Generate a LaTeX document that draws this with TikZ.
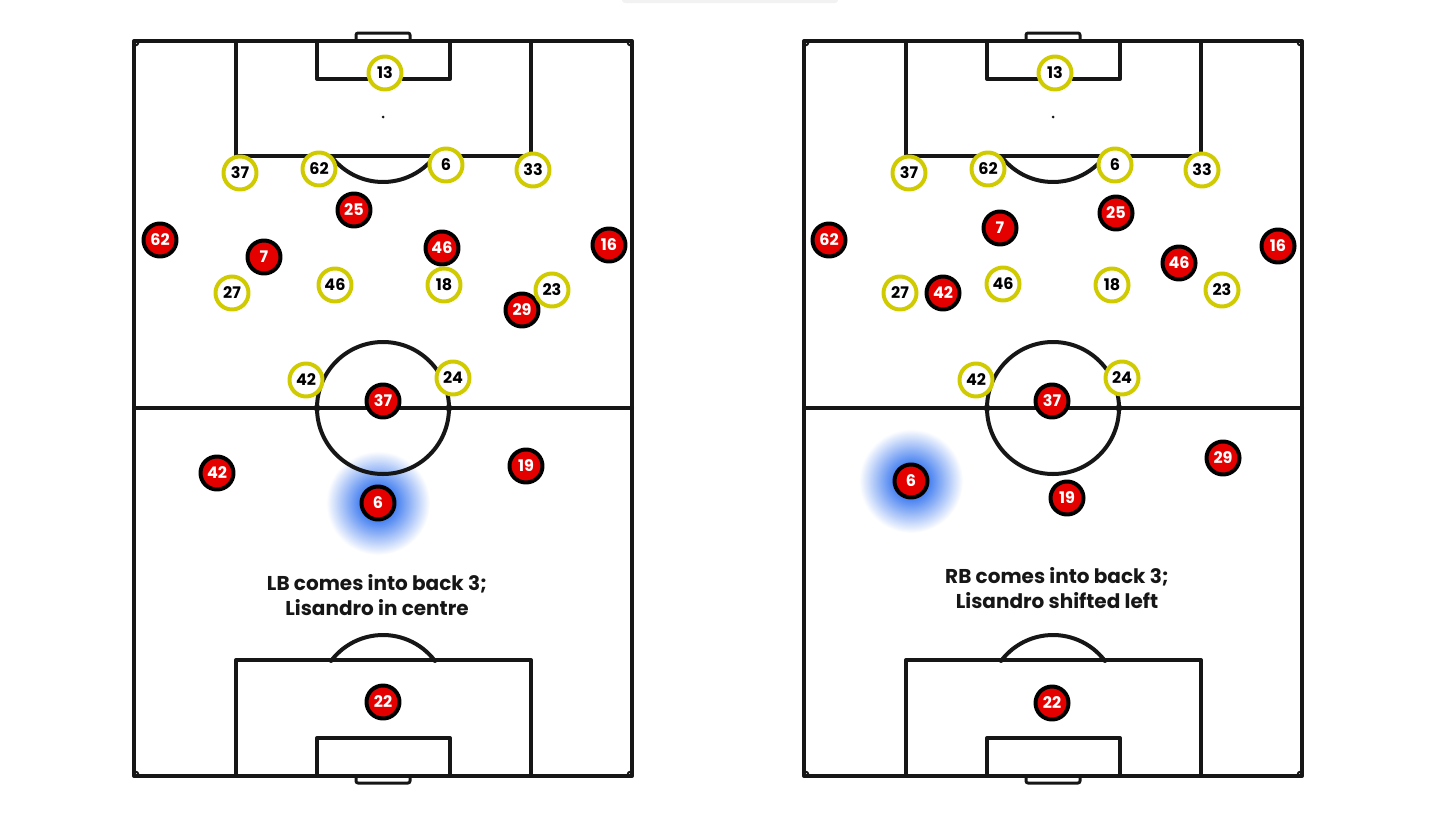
\documentclass[tikz,border=0pt]{standalone}
\usepackage{fontspec}
\setmainfont{Poppins}
\usepackage{tikz}
\definecolor{pitchdark}{HTML}{161616}
\definecolor{plred}{HTML}{E50000}
\definecolor{plyellow}{HTML}{CFCB00}
\definecolor{glowblue}{HTML}{4D85F1}
\pgfdeclareradialshading{glow}{\pgfpoint{0bp}{0bp}}{color(0bp)=(glowblue); color(9bp)=(glowblue); color(25bp)=(white); color(50bp)=(white)}
\tikzset{
  every picture/.style={line join=round, line cap=round},
  pitchline/.style={draw=pitchdark, line width=4pt},
  redplayer/.style={circle, fill=plred, draw=black, line width=4pt, minimum size=33pt, inner sep=0pt, text=white, font=\bfseries\fontsize{16}{16}\selectfont},
  yellowplayer/.style={circle, fill=white, draw=plyellow, line width=4pt, minimum size=33pt, inner sep=0pt, text=black, font=\bfseries\fontsize{16}{16}\selectfont},
  captiontext/.style={align=center, text=pitchdark, font=\bfseries\fontsize{20}{25}\selectfont},
}

\begin{document}
\begin{tikzpicture}[x=1pt,y=-1pt]
\useasboundingbox (0,0) rectangle (1456,819);
\fill[black!5,rounded corners=3] (622,-4) rectangle (838,3);
\shade[shading=glow] (378,503) circle[radius=52];
\shade[shading=glow] (911,481) circle[radius=52];
\foreach \ox in {0,670}{
  \begin{scope}[xshift=\ox]
  \draw[pitchline] (134,41) rectangle (632,776);
  \draw[pitchline] (134,408) -- (632,408);
  \draw[pitchline] (383,408) circle[radius=66];
  \fill[pitchdark] (317,408) circle[radius=3.5] (449,408) circle[radius=3.5];
  \draw[pitchline] (236,41) rectangle (531,156);
  \draw[pitchline] (317,41) rectangle (450,79);
  \draw[pitchline] (383,117) ++(36.87:65) arc[start angle=36.87, end angle=143.13, radius=65];
  \fill[pitchdark] (383,117) circle[radius=1.5];
  \draw[pitchline,line width=3pt,rounded corners=2] (356,41) -- (356,33) -- (410,33) -- (410,41);
  \draw[pitchline] (236,776) rectangle (531,660);
  \draw[pitchline] (317,776) rectangle (450,738);
  \draw[pitchline] (383,700) ++(-36.87:65) arc[start angle=-36.87, end angle=-143.13, radius=65];
  \draw[pitchline,line width=3pt,rounded corners=2] (356,776) -- (356,783) -- (410,783) -- (410,776);
  \draw[pitchdark,line width=2pt] (139,41) arc[start angle=0, end angle=90, radius=5];
  \draw[pitchdark,line width=2pt] (627,41) arc[start angle=180, end angle=90, radius=5];
  \draw[pitchdark,line width=2pt] (139,776) arc[start angle=0, end angle=-90, radius=5];
  \draw[pitchdark,line width=2pt] (627,776) arc[start angle=180, end angle=270, radius=5];
  \end{scope}
}
% left pitch
\node[redplayer] (lr25) at (354,210) {25};
\node[redplayer] (lr62) at (160,240) {62};
\node[redplayer] (lr7) at (264,257) {7};
\node[redplayer] (lr46) at (442,248) {46};
\node[redplayer] (lr16) at (609,245) {16};
\node[redplayer] (lr29) at (522,310) {29};
\node[redplayer] (lr37) at (383,401) {37};
\node[redplayer] (lr42) at (217,473) {42};
\node[redplayer] (lr19) at (526,466) {19};
\node[redplayer] (lr6) at (378,503) {6};
\node[redplayer] (lr22) at (383,702) {22};
\node[yellowplayer] (ly13) at (385,73) {13};
\node[yellowplayer] (ly37) at (240,173) {37};
\node[yellowplayer] (ly62) at (319,169) {62};
\node[yellowplayer] (ly6) at (446,165) {6};
\node[yellowplayer] (ly33) at (533,170) {33};
\node[yellowplayer] (ly27) at (232,293) {27};
\node[yellowplayer] (ly46) at (335,285) {46};
\node[yellowplayer] (ly18) at (444,285) {18};
\node[yellowplayer] (ly23) at (552,290) {23};
\node[yellowplayer] (ly42) at (306,380) {42};
\node[yellowplayer] (ly24) at (453,378) {24};
\node[captiontext] (lcap) at (377,595) {LB comes into back 3;\\Lisandro in centre};
% right pitch
\node[redplayer] (rr62) at (829,240) {62};
\node[redplayer] (rr7) at (1000,228) {7};
\node[redplayer] (rr25) at (1116,213) {25};
\node[redplayer] (rr16) at (1278,246) {16};
\node[redplayer] (rr46) at (1179,263) {46};
\node[redplayer] (rr42) at (943,293) {42};
\node[redplayer] (rr37) at (1052,401) {37};
\node[redplayer] (rr6) at (911,481) {6};
\node[redplayer] (rr19) at (1067,498) {19};
\node[redplayer] (rr29) at (1223,458) {29};
\node[redplayer] (rr22) at (1052,703) {22};
\node[yellowplayer] (ry13) at (1055,73) {13};
\node[yellowplayer] (ry37) at (909,173) {37};
\node[yellowplayer] (ry62) at (988,169) {62};
\node[yellowplayer] (ry6) at (1115,165) {6};
\node[yellowplayer] (ry33) at (1202,170) {33};
\node[yellowplayer] (ry27) at (900,293) {27};
\node[yellowplayer] (ry46) at (1003,284) {46};
\node[yellowplayer] (ry18) at (1112,285) {18};
\node[yellowplayer] (ry23) at (1222,290) {23};
\node[yellowplayer] (ry42) at (976,380) {42};
\node[yellowplayer] (ry24) at (1122,378) {24};
\node[captiontext] (rcap) at (1057,588) {RB comes into back 3;\\Lisandro shifted left};
\end{tikzpicture}
\end{document}
